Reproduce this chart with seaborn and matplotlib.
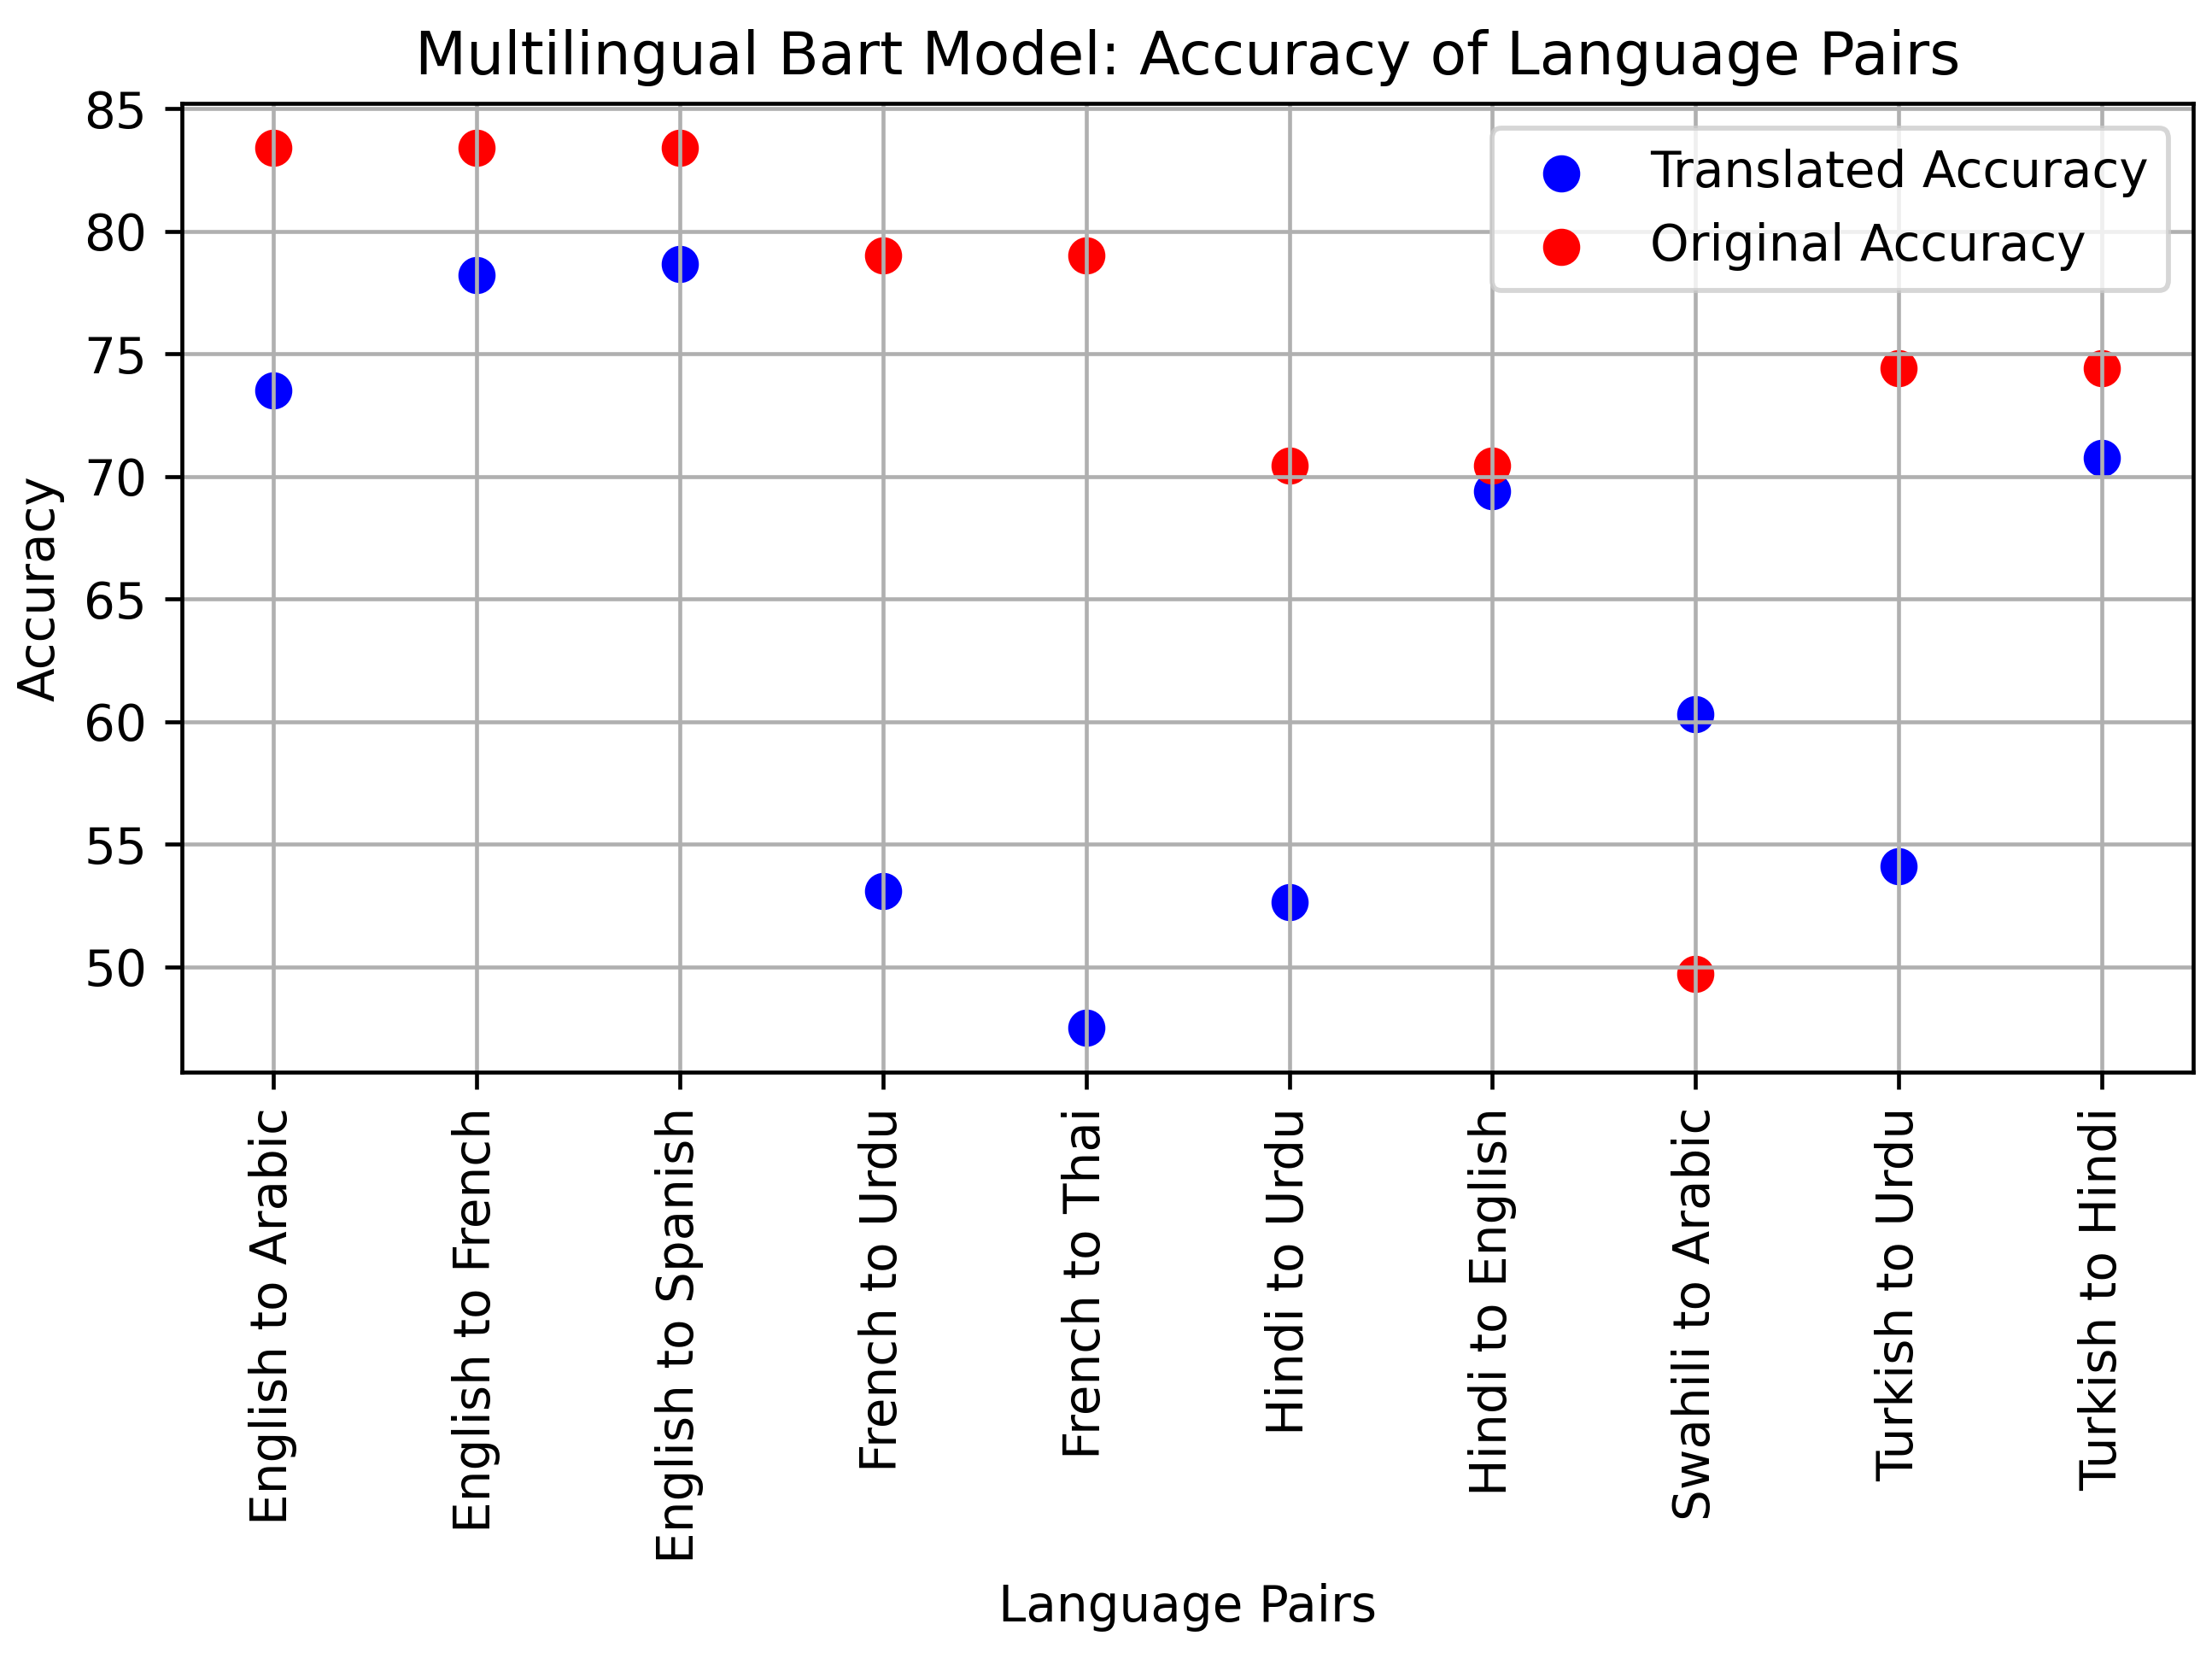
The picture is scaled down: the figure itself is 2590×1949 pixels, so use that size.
#!/usr/bin/env python3
"""Multilingual Bart accuracy per language pair (translated vs original)."""

import matplotlib

matplotlib.use("Agg")
import matplotlib.pyplot as plt
import pandas as pd
import seaborn as sns

language_pairs = [
    "English to Arabic",
    "English to French",
    "English to Spanish",
    "French to Urdu",
    "French to Thai",
    "Hindi to Urdu",
    "Hindi to English",
    "Swahili to Arabic",
    "Turkish to Urdu",
    "Turkish to Hindi",
]
translated_accuracy = [73.5, 78.2, 78.65, 53.1, 47.5, 52.65, 69.4, 60.3, 54.1, 70.75]
original_accuracy = [83.4, 83.4, 83.4, 79.0, 79.0, 70.45, 70.45, 49.7, 74.4, 74.4]


def main() -> None:
    df = pd.DataFrame(
        {
            "pair": language_pairs,
            "translated": translated_accuracy,
            "original": original_accuracy,
        }
    )

    dpi = 418
    fig, ax = plt.subplots(figsize=(2590.2 / dpi, 1949.2 / dpi), dpi=dpi)
    fig.subplots_adjust(left=0.0822, right=0.9915, top=0.9376, bottom=0.3561)

    sns.scatterplot(
        data=df, x="pair", y="translated", color="blue", s=36,
        edgecolor="face", linewidth=1.5, label="Translated Accuracy", ax=ax,
    )
    sns.scatterplot(
        data=df, x="pair", y="original", color="red", s=36,
        edgecolor="face", linewidth=1.5, label="Original Accuracy", ax=ax,
    )

    ax.set_title("Multilingual Bart Model: Accuracy of Language Pairs")
    ax.set_xlabel("Language Pairs")
    ax.set_ylabel("Accuracy")
    plt.setp(ax.get_xticklabels(), rotation=90)
    ax.grid(True)
    ax.legend(loc="upper right")

    fig.savefig("out.png", dpi=dpi)
    plt.close(fig)


if __name__ == "__main__":
    main()
